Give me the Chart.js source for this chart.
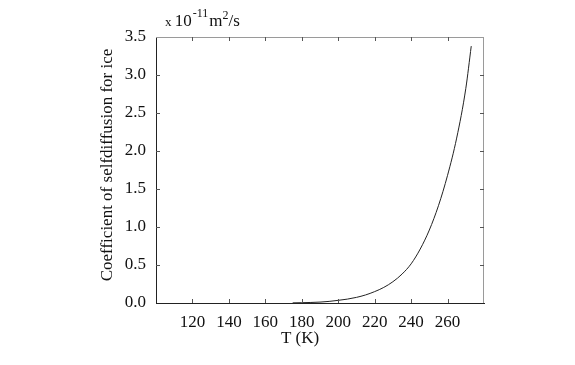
<!DOCTYPE html>
<html>
<head>
<meta charset="utf-8">
<script src="https://cdn.jsdelivr.net/npm/chart.js@4"></script>
<style>
  html, body { margin: 0; padding: 0; background: #fff; }
  #wrap { width: 575px; height: 365px; }
</style>
</head>
<body>
<div id="wrap"><canvas id="myChart"></canvas></div>
<script>
// temperature (K) and self-diffusion coefficient (x 1e-11 m^2/s)
const temps = [175, 180, 185, 190, 195, 200, 205, 210, 215, 220, 225, 230, 235, 240, 245, 250, 255, 260, 265, 270, 273];
const coeffs = [0.002, 0.004, 0.007, 0.012, 0.021, 0.035, 0.051, 0.074, 0.106, 0.15, 0.205, 0.28, 0.38, 0.515, 0.71, 0.96, 1.28, 1.68, 2.17, 2.82, 3.38];
const xTicks = [120, 140, 160, 180, 200, 220, 240, 260];
const yTicks = [0, 0.5, 1.0, 1.5, 2.0, 2.5, 3.0, 3.5];

const serif = "'Liberation Serif', 'DejaVu Serif', serif";

// inward tick marks, grey top/right frame, and the titles
const framePlugin = {
  id: "frame",
  afterDraw(chart) {
    const ctx = chart.ctx;
    const a = chart.chartArea;
    const xs = chart.scales.x;
    const ys = chart.scales.y;
    ctx.save();
    ctx.lineWidth = 1;
    ctx.strokeStyle = "#9a9a9a";
    ctx.beginPath();
    ctx.moveTo(a.left, a.top + 0.5);
    ctx.lineTo(a.right, a.top + 0.5);
    ctx.moveTo(a.right - 0.5, a.top);
    ctx.lineTo(a.right - 0.5, a.bottom);
    ctx.stroke();

    ctx.strokeStyle = "#555";
    ctx.beginPath();
    xTicks.forEach((t) => {
      const px = Math.round(xs.getPixelForValue(t)) + 0.5;
      ctx.moveTo(px, a.bottom);
      ctx.lineTo(px, a.bottom - 4);
      ctx.moveTo(px, a.top);
      ctx.lineTo(px, a.top + 4);
    });
    yTicks.slice(1, -1).forEach((t) => {
      const py = Math.round(ys.getPixelForValue(t)) + 0.5;
      ctx.moveTo(a.left, py);
      ctx.lineTo(a.left + 4, py);
      ctx.moveTo(a.right, py);
      ctx.lineTo(a.right - 4, py);
    });
    ctx.stroke();

    ctx.fillStyle = "#111";
    // x title
    ctx.font = "17px " + serif;
    ctx.textAlign = "center";
    ctx.textBaseline = "alphabetic";
    ctx.fillText("T (K)", 300, 343);
    // y title
    ctx.save();
    ctx.translate(112, 165);
    ctx.rotate(-Math.PI / 2);
    ctx.fillText("Coefficient of selfdiffusion for ice", 0, 0);
    ctx.restore();
    // unit label
    ctx.textAlign = "left";
    let x = 165;
    const base = 26;
    ctx.font = "13px " + serif;
    ctx.fillText("x", x, base);
    x += ctx.measureText("x ").width;
    ctx.font = "17px " + serif;
    ctx.fillText("10", x, base);
    x += ctx.measureText("10").width + 1;
    ctx.font = "12px " + serif;
    ctx.fillText("-11", x, base - 9);
    x += ctx.measureText("-11").width + 1;
    ctx.font = "17px " + serif;
    ctx.fillText("m", x, base);
    x += ctx.measureText("m").width;
    ctx.font = "12px " + serif;
    ctx.fillText("2", x, base - 7);
    x += ctx.measureText("2").width;
    ctx.font = "17px " + serif;
    ctx.fillText("/s", x, base);
    ctx.restore();
  },
};

const points = temps.map((t, i) => ({ x: t, y: coeffs[i] }));

new Chart("myChart", {
  type: "scatter",
  data: {
    datasets: [
      {
        data: points,
        showLine: true,
        borderColor: "#222",
        borderWidth: 1,
        pointRadius: 0,
        cubicInterpolationMode: "monotone",
        fill: false,
      },
    ],
  },
  options: {
    responsive: true,
    maintainAspectRatio: false,
    animation: false,
    devicePixelRatio: 1,
    layout: { padding: { left: 0, right: 91, top: 37, bottom: 0 } },
    plugins: {
      legend: { display: false },
      tooltip: { enabled: false },
    },
    scales: {
      x: {
        type: "linear",
        min: 100,
        max: 280,
        afterFit: (s) => { s.height = 62; },
        afterBuildTicks: (s) => { s.ticks = xTicks.map((v) => ({ value: v })); },
        grid: { display: false, drawTicks: false },
        border: { display: true, color: "#222", width: 1 },
        ticks: {
          color: "#111",
          padding: 9,
          font: { family: serif, size: 17 },
          callback: (v) => String(v),
        },
      },
      y: {
        type: "linear",
        min: 0,
        max: 3.5,
        afterFit: (s) => { s.width = 156; },
        afterBuildTicks: (s) => { s.ticks = yTicks.map((v) => ({ value: v })); },
        grid: { display: false, drawTicks: false },
        border: { display: true, color: "#222", width: 1 },
        ticks: {
          color: "#111",
          padding: 10,
          font: { family: serif, size: 17 },
          callback: (v) => Number(v).toFixed(1),
        },
      },
    },
  },
  plugins: [framePlugin],
});
</script>
</body>
</html>
